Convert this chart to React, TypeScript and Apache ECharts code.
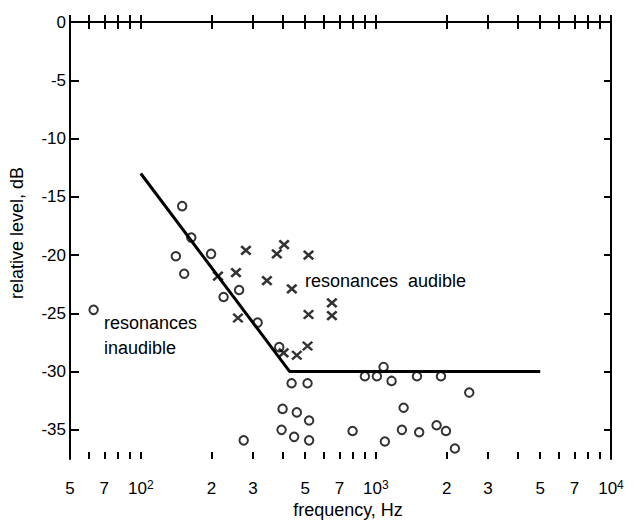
import React, { useEffect, useRef } from 'react';
import * as echarts from 'echarts';

// Axis tick positions (frequency in Hz, level in dB)
const xTickValues = [50, 60, 70, 80, 90, 100, 200, 300, 400, 500, 600, 700, 800, 900, 1000, 2000, 3000, 4000, 5000, 6000, 7000, 8000, 9000, 10000];
const xLabelValues = [50, 70, 100, 200, 300, 500, 700, 1000, 2000, 3000, 5000, 7000, 10000];
const yTickValues = [0, -5, -10, -15, -20, -25, -30, -35];

// Resonances inaudible (open circles): [frequency Hz, relative level dB]
const circles: [number, number][] = [
  [63, -24.7], [141, -20.1], [150, -15.8], [153, -21.6], [164, -18.5], [199, -19.9],
  [225, -23.6], [262, -23.0], [274, -35.9], [314, -25.8], [388, -27.9],
  [397, -35.0], [401, -33.2], [438, -31.0], [449, -35.6], [461, -33.5],
  [512, -31.0], [520, -34.2], [520, -35.9], [796, -35.1], [898, -30.4],
  [1010, -30.4], [1078, -29.6], [1092, -36.0], [1166, -30.8], [1290, -35.0],
  [1312, -33.1], [1495, -30.4], [1528, -35.2], [1812, -34.6], [1891, -30.4],
  [1986, -35.1], [2168, -36.6], [2495, -31.8],
];

// Resonances audible (crosses)
const crosses: [number, number][] = [
  [213, -21.8], [254, -21.5], [259, -25.4], [280, -19.6], [344, -22.2],
  [379, -19.9], [405, -28.4], [407, -19.1], [439, -22.9], [461, -28.6],
  [512, -27.8], [517, -20.0], [517, -25.1], [650, -24.1], [650, -25.2],
];

// Audibility boundary line
const boundary: [number, number][] = [[100, -13], [430, -30], [5000, -30]];

const X_MIN = 50;
const X_MAX = 10000;
const Y_MIN = -37.5;
const Y_MAX = 0;

const GRID = { left: 70, right: 27, top: 22, bottom: 66 };
const CHART_W = 638;
const CHART_H = 525;
const PLOT_W = CHART_W - GRID.left - GRID.right;
const PLOT_H = CHART_H - GRID.top - GRID.bottom;

const FONT = 'Liberation Sans, Arial, Helvetica, sans-serif';

const fmtX = (v: number) => {
  const r = Math.round(v);
  const e = Math.round(Math.log10(r));
  if (Math.abs(r - Math.pow(10, e)) < 1e-6) return `{b|10}{s|${e}}`;
  const d = Math.round(r / Math.pow(10, Math.floor(Math.log10(r) + 1e-9)));
  return `{b|${d}}`;
};

const fmtY = (v: number) => (v === 0 ? '0' : '-' + Math.abs(Math.round(v)));

export default function App() {
  const ref = useRef<HTMLDivElement>(null);

  useEffect(() => {
    if (!ref.current) return;
    const chart = echarts.init(ref.current, null, { renderer: 'svg' });
    const lineStyle = { color: '#000', width: 2 };

    const logAxis = (position: string, extra: any = {}) => ({
      type: 'log',
      logBase: 10,
      min: X_MIN,
      max: X_MAX,
      position,
      axisLine: { show: true, lineStyle },
      axisTick: { show: true, inside: true, length: 7, lineStyle, customValues: xTickValues },
      minorTick: { show: false },
      splitLine: { show: false },
      axisLabel: { show: false },
      ...extra,
    });
    const valueAxis = (position: string, len: number, extra: any = {}) => ({
      type: 'value',
      min: Y_MIN,
      max: Y_MAX,
      position,
      axisLine: { show: true, lineStyle },
      axisTick: { show: true, inside: true, length: len, lineStyle, customValues: yTickValues },
      splitLine: { show: false },
      axisLabel: { show: false },
      ...extra,
    });

    const option: any = {
      animation: false,
      backgroundColor: '#fff',
      grid: { ...GRID, outerBoundsMode: 'none' },
      xAxis: [
        logAxis('bottom'),
        logAxis('top'),
        logAxis('top', {
          offset: -PLOT_H,
          axisLine: { show: false },
          axisTick: { show: true, inside: false, length: 7, lineStyle, customValues: xTickValues },
        }),
      ],
      yAxis: [
        valueAxis('left', 9),
        valueAxis('right', 7),
        valueAxis('right', 9, {
          offset: -PLOT_W,
          axisLine: { show: false },
          axisTick: { show: true, inside: false, length: 9, lineStyle, customValues: yTickValues },
        }),
      ],
      series: [
        {
          name: 'boundary',
          type: 'line',
          data: boundary,
          symbol: 'none',
          lineStyle: { color: '#000', width: 3 },
          z: 2,
        },
        {
          name: 'resonances inaudible',
          type: 'scatter',
          data: circles,
          symbol: 'circle',
          symbolSize: 8.5,
          itemStyle: { color: 'rgba(255,255,255,0)', borderColor: '#000', borderWidth: 2 },
          z: 3,
        },
        {
          name: 'resonances audible',
          type: 'scatter',
          data: crosses,
          symbol: 'path://M0,0L10,10M10,0L0,10',
          symbolSize: [9.5, 8.5],
          itemStyle: { color: 'none', borderColor: '#000', borderWidth: 2.5 },
          z: 3,
        },
        {
          name: 'x tick labels',
          type: 'custom',
          clip: false,
          silent: true,
          data: xLabelValues.map((v) => [v, Y_MIN]),
          renderItem: (_p: any, api: any) => {
            const v = api.value(0);
            const pt = api.coord([v, Y_MIN]);
            return {
              type: 'text',
              x: pt[0],
              y: pt[1] + 29,
              style: {
                text: fmtX(v),
                align: 'center',
                verticalAlign: 'middle',
                fill: '#000',
                rich: {
                  b: { fontSize: 17, fontFamily: FONT, fill: '#000', lineHeight: 18, verticalAlign: 'bottom' },
                  s: { fontSize: 12, fontFamily: FONT, fill: '#000', lineHeight: 10, verticalAlign: 'top' },
                },
              },
            };
          },
        },
        {
          name: 'y tick labels',
          type: 'custom',
          clip: false,
          silent: true,
          data: yTickValues.map((v) => [X_MIN, v]),
          renderItem: (_p: any, api: any) => {
            const v = api.value(1);
            const pt = api.coord([X_MIN, v]);
            return {
              type: 'text',
              x: pt[0] - 4,
              y: pt[1],
              style: {
                text: fmtY(v),
                align: 'right',
                verticalAlign: 'middle',
                fill: '#000',
                fontSize: 17,
                fontFamily: FONT,
              },
            };
          },
        },
      ],
      graphic: [
        {
          type: 'text',
          x: 104,
          y: 323,
          style: { text: 'resonances', fill: '#000', fontSize: 18, fontFamily: FONT, verticalAlign: 'middle' },
        },
        {
          type: 'text',
          x: 104,
          y: 348,
          style: { text: 'inaudible', fill: '#000', fontSize: 18, fontFamily: FONT, verticalAlign: 'middle' },
        },
        {
          type: 'text',
          x: 305,
          y: 281,
          style: { text: 'resonances  audible', fill: '#000', fontSize: 18, fontFamily: FONT, verticalAlign: 'middle' },
        },
        {
          type: 'text',
          x: 348,
          y: 510,
          style: { text: 'frequency, Hz', fill: '#000', fontSize: 18, fontFamily: FONT, align: 'center', verticalAlign: 'middle' },
        },
        {
          type: 'text',
          x: 17,
          y: 233,
          rotation: Math.PI / 2,
          style: { text: 'relative level, dB', fill: '#000', fontSize: 18, fontFamily: FONT, align: 'center', verticalAlign: 'middle' },
        },
      ],
    };
    chart.setOption(option);
    return () => chart.dispose();
  }, []);

  return (
    <div
      ref={ref}
      style={{ position: 'fixed', left: 0, top: 0, width: CHART_W, height: CHART_H, background: '#fff' }}
    />
  );
}
